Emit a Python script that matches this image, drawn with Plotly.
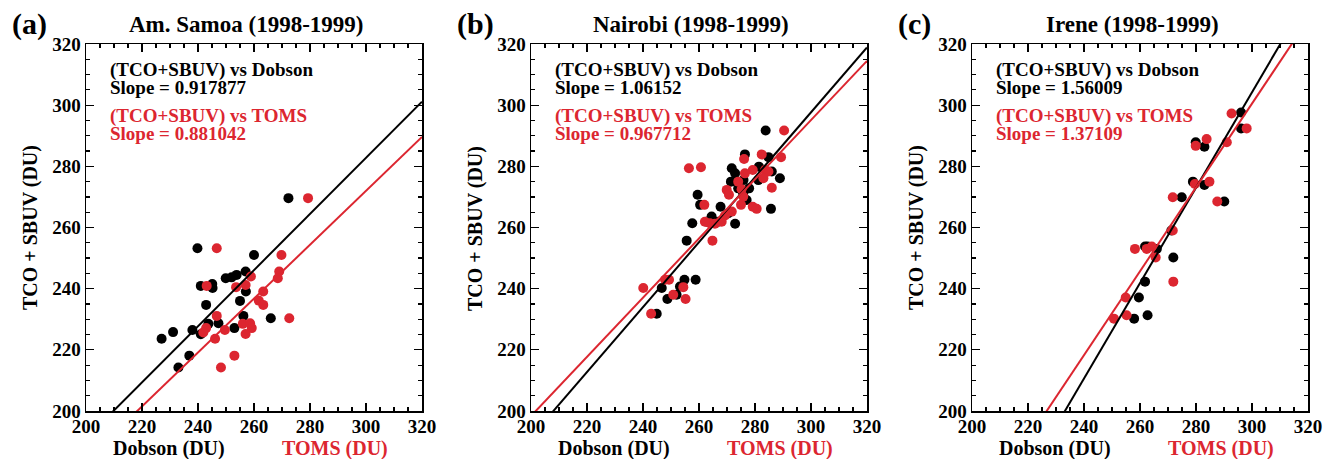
import plotly.graph_objects as go

# ---------------- data ----------------
titles = ["Am. Samoa (1998-1999)", "Nairobi (1998-1999)", "Irene (1998-1999)"]
panel_tags = ["(a)", "(b)", "(c)"]

# Panel (a) Am. Samoa
a_dob_x = [272.3, 239.8, 260.0, 249.9, 252.0, 253.8, 257.0, 241.0, 245.1, 245.2, 257.1, 255.0,
           242.9, 256.2, 266.0, 243.7, 247.3, 238.0, 241.0, 253.0, 231.1, 227.0, 236.9, 233.0]
a_dob_y = [269.6, 253.2, 251.0, 243.4, 243.7, 244.5, 245.6, 240.9, 241.5, 240.2, 239.1, 236.0,
           234.7, 231.1, 230.3, 228.5, 228.7, 226.5, 225.1, 227.1, 225.8, 223.6, 218.1, 214.2]
a_toms_x = [279.3, 246.7, 269.8, 269.0, 268.5, 258.9, 253.6, 257.0, 243.1, 263.3, 261.7, 263.3,
            272.6, 246.7, 256.0, 258.6, 259.2, 249.6, 242.9, 241.9, 257.0, 246.1, 253.0, 248.2]
a_toms_y = [269.6, 253.2, 251.0, 245.6, 243.4, 244.0, 240.5, 241.2, 240.9, 239.1, 236.1, 234.7,
            230.3, 231.1, 228.5, 228.7, 227.1, 226.5, 227.1, 225.7, 225.2, 223.6, 218.1, 214.2]

# Panel (b) Nairobi
b_dob_x = [283.8, 276.4, 284.8, 271.7, 281.4, 286.0, 288.9, 272.9, 271.4, 277.9, 275.8, 259.5,
           260.4, 267.7, 285.7, 264.5, 262.7, 272.9, 257.6, 255.6, 254.8, 258.8, 246.7, 253.2,
           248.7, 252.0, 244.9, 275.9, 274.0, 277.0, 281.2, 270.5, 266.9]
b_dob_y = [291.7, 283.9, 283.0, 279.4, 279.9, 278.3, 276.1, 277.7, 275.0, 272.8, 271.2, 270.7,
           267.4, 266.8, 266.1, 263.6, 261.9, 261.2, 261.4, 255.7, 242.9, 242.9, 240.2, 240.7,
           236.6, 238.0, 231.8, 275.5, 272.8, 269.0, 275.5, 264.7, 261.9]
b_toms_x = [290.4, 256.4, 260.7, 282.4, 289.3, 276.1, 279.2, 283.6, 284.8, 276.4, 283.0, 274.0,
            286.0, 269.9, 275.2, 270.7, 275.8, 275.0, 279.2, 280.6, 271.7, 261.9, 269.3, 268.1,
            263.9, 262.1, 265.7, 264.8, 249.3, 247.9, 240.1, 254.4, 250.8, 255.2, 242.9]
b_toms_y = [291.7, 279.4, 279.7, 283.9, 283.0, 282.4, 278.8, 278.8, 278.3, 277.7, 276.1, 275.0,
            273.0, 272.3, 272.5, 270.7, 270.1, 267.4, 266.8, 266.1, 265.2, 267.4, 263.9, 261.9,
            261.4, 261.9, 261.2, 255.7, 242.9, 242.9, 240.2, 240.5, 238.0, 236.6, 231.8]

# Panel (c) Irene
c_dob_x = [296.1, 296.1, 279.9, 283.0, 278.9, 283.0, 274.9, 290.1, 261.8, 266.0, 271.9, 261.8,
           259.6, 257.9, 262.7, 271.2, 262.7]
c_dob_y = [297.6, 292.4, 287.9, 286.4, 275.0, 273.9, 269.9, 268.5, 253.8, 253.0, 250.2, 242.3,
           237.1, 230.2, 231.3, 259.0, 253.8]
c_toms_x = [292.7, 298.1, 279.9, 283.8, 291.0, 279.6, 284.8, 271.7, 287.6, 271.7, 258.2, 262.4,
            264.2, 265.6, 271.9, 254.9, 250.7, 255.2]
c_toms_y = [297.3, 292.4, 286.7, 288.9, 287.9, 274.2, 275.0, 269.9, 268.5, 259.0, 253.0, 253.0,
            253.8, 250.2, 242.3, 237.1, 230.2, 231.3]

# regression lines (slope, intercept)
dob_slopes = [0.917877, 1.06152, 1.56009]
dob_intercepts = [7.43, -20.8, -163.8]
toms_slopes = [0.881042, 0.967712, 1.37109]
toms_intercepts = [7.67, 4.81, -110.8]

xs_all = [(a_dob_x, a_dob_y, a_toms_x, a_toms_y),
          (b_dob_x, b_dob_y, b_toms_x, b_toms_y),
          (c_dob_x, c_dob_y, c_toms_x, c_toms_y)]

line_x = [200, 320]

# ---------------- styling ----------------
W, H = 1325, 459
OFF = 0  # page body margin removed via post_script
RED = "#dc2630"
BLACK = "#000000"
FONT = "Liberation Serif"

panel_left = [86, 531, 972]
panel_w = 336
top_px, bot_px = 44, 411


def px(xp):
    return (xp - OFF) / W


def py(yp):
    return (H - (yp - OFF)) / H


fig = go.Figure()
annotations = []

for i in range(3):
    xa = "x" if i == 0 else f"x{i+1}"
    ya = "y" if i == 0 else f"y{i+1}"
    dx, dy, tx, ty = xs_all[i]
    fig.add_trace(go.Scatter(x=dx, y=dy, mode="markers", xaxis=xa, yaxis=ya,
                             marker=dict(color=BLACK, size=10, line=dict(width=0)),
                             showlegend=False))
    fig.add_trace(go.Scatter(x=tx, y=ty, mode="markers", xaxis=xa, yaxis=ya,
                             marker=dict(color=RED, size=10, line=dict(width=0)),
                             showlegend=False))
    fig.add_trace(go.Scatter(x=line_x, y=[dob_slopes[i] * v + dob_intercepts[i] for v in line_x],
                             mode="lines", xaxis=xa, yaxis=ya,
                             line=dict(color=BLACK, width=2), showlegend=False))
    fig.add_trace(go.Scatter(x=line_x, y=[toms_slopes[i] * v + toms_intercepts[i] for v in line_x],
                             mode="lines", xaxis=xa, yaxis=ya,
                             line=dict(color=RED, width=2), showlegend=False))

    L = panel_left[i]
    axis_common = dict(
        ticks="inside", ticklen=8, tickwidth=1.2, tickcolor=BLACK,
        minor=dict(dtick=5, ticks="inside", ticklen=4, tickwidth=1.2, tickcolor=BLACK),
        showline=True, linewidth=1.5, linecolor=BLACK, mirror="allticks",
        showgrid=False, zeroline=False, automargin=False,
        tickfont=dict(family=FONT, size=19, color=BLACK, weight="bold"),
        fixedrange=True,
    )
    fig.update_layout(**{
        ("xaxis" if i == 0 else f"xaxis{i+1}"): dict(
            domain=[px(L), px(L + panel_w)], range=[200, 320], tick0=200, dtick=20,
            anchor=ya, ticklabelstandoff=-2, **axis_common),
        ("yaxis" if i == 0 else f"yaxis{i+1}"): dict(
            domain=[py(bot_px), py(top_px)], range=[200, 320], tick0=200, dtick=20,
            anchor=xa, **axis_common),
    })

    # panel tag & title
    annotations.append(dict(text="<b>" + panel_tags[i] + "</b>", x=px(L - 76), y=py(24),
                            xref="paper", yref="paper", xanchor="left", yanchor="middle",
                            showarrow=False, font=dict(family=FONT, size=30, color=BLACK)))
    annotations.append(dict(text="<b>" + titles[i] + "</b>", x=px(L + panel_w / 2 - 8), y=py(24),
                            xref="paper", yref="paper", xanchor="center", yanchor="middle",
                            showarrow=False, font=dict(family=FONT, size=23, color=BLACK)))
    # in-plot texts
    annotations.append(dict(text="<b>(TCO+SBUV) vs Dobson</b>", x=px(L + 22), y=py(70),
                            xref="paper", yref="paper", xanchor="left", yanchor="middle",
                            showarrow=False, font=dict(family=FONT, size=19, color=BLACK)))
    annotations.append(dict(text=f"<b>Slope = {dob_slopes[i]:g}</b>", x=px(L + 22), y=py(87),
                            xref="paper", yref="paper", xanchor="left", yanchor="middle",
                            showarrow=False, font=dict(family=FONT, size=19, color=BLACK)))
    annotations.append(dict(text="<b>(TCO+SBUV) vs TOMS</b>", x=px(L + 22), y=py(116),
                            xref="paper", yref="paper", xanchor="left", yanchor="middle",
                            showarrow=False, font=dict(family=FONT, size=19, color=RED)))
    annotations.append(dict(text=f"<b>Slope = {toms_slopes[i]:g}</b>", x=px(L + 22), y=py(133),
                            xref="paper", yref="paper", xanchor="left", yanchor="middle",
                            showarrow=False, font=dict(family=FONT, size=19, color=RED)))
    # axis titles
    annotations.append(dict(text="<b>Dobson (DU)</b>", x=px(L + 83), y=py(448),
                            xref="paper", yref="paper", xanchor="center", yanchor="middle",
                            showarrow=False, font=dict(family=FONT, size=20, color=BLACK)))
    annotations.append(dict(text="<b>TOMS (DU)</b>", x=px(L + 249), y=py(448),
                            xref="paper", yref="paper", xanchor="center", yanchor="middle",
                            showarrow=False, font=dict(family=FONT, size=20, color=RED)))
    annotations.append(dict(text="<b>TCO + SBUV (DU)</b>", x=px(L - 56), y=py(228),
                            xref="paper", yref="paper", xanchor="center", yanchor="middle",
                            textangle=-90,
                            showarrow=False, font=dict(family=FONT, size=20, color=BLACK)))

fig.update_layout(
    width=W, height=H,
    margin=dict(l=0, r=0, t=0, b=0, pad=0, autoexpand=False),
    paper_bgcolor="white", plot_bgcolor="white",
    annotations=annotations,
    showlegend=False,
)

fig.write_html("out.html",
               config={"displayModeBar": False, "staticPlot": True},
               post_script="document.body.style.margin='0';document.body.style.overflow='hidden';")
